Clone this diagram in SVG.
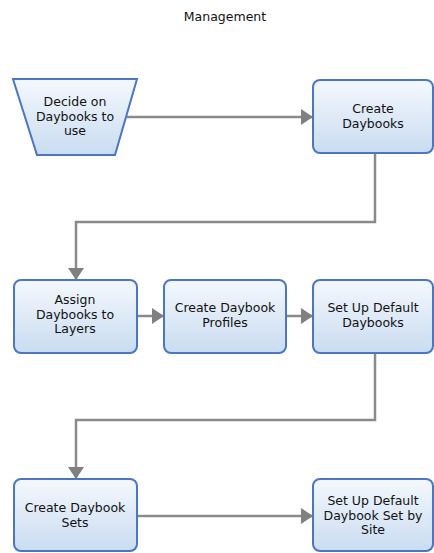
<svg xmlns="http://www.w3.org/2000/svg" width="434" height="553" viewBox="0 0 434 553">
<defs>
<linearGradient id="g" x1="0" y1="0" x2="0" y2="1">
<stop offset="0" stop-color="#f4f8fd"/>
<stop offset="1" stop-color="#c9dcf1"/>
</linearGradient>
<marker id="ah" markerWidth="14" markerHeight="16" refX="11" refY="8" orient="auto" markerUnits="userSpaceOnUse">
<path d="M0,0 L12,8 L0,16 Z" fill="#808080"/>
</marker>
<style>
.n{fill:url(#g);stroke:#4a76c4;stroke-width:2}
.t{font-family:"DejaVu Sans",Verdana,sans-serif;font-size:12.5px;fill:#111;text-anchor:middle}
.c{fill:none;stroke:#8a8a8a;stroke-width:2.5;marker-end:url(#ah)}
</style>
</defs>
<rect width="434" height="553" fill="#fff"/>
<text x="225" y="21" class="t" style="font-size:12.5px">Management</text>
<g id="connectors">
<path class="c" d="M127,117 H312"/>
<path class="c" d="M375,154 V222 H76 V279"/>
<path class="c" d="M137,316 H163"/>
<path class="c" d="M286,316 H312"/>
<path class="c" d="M375,354 V420 H76 V478"/>
<path class="c" d="M137,516 H312"/>
</g>
<g id="n1"><path class="n" d="M13,79 H137 L115,155 H37 Z"/>
<text class="t" x="75" y="106">Decide on</text><text class="t" x="75" y="120.5">Daybooks to</text><text class="t" x="75" y="135">use</text></g>
<g id="n2"><rect class="n" x="313" y="80" width="120" height="73" rx="7"/>
<text class="t" x="373" y="113">Create</text><text class="t" x="373" y="127.5">Daybooks</text></g>
<g id="n3"><rect class="n" x="14" y="280" width="123" height="73" rx="7"/>
<text class="t" x="75" y="304">Assign</text><text class="t" x="75" y="318.5">Daybooks to</text><text class="t" x="75" y="333">Layers</text></g>
<g id="n4"><rect class="n" x="164" y="280" width="122" height="73" rx="7"/>
<text class="t" x="225" y="312">Create Daybook</text><text class="t" x="225" y="326.5">Profiles</text></g>
<g id="n5"><rect class="n" x="313" y="280" width="120" height="73" rx="7"/>
<text class="t" x="373" y="312">Set Up Default</text><text class="t" x="373" y="326.5">Daybooks</text></g>
<g id="n6"><rect class="n" x="14" y="479" width="123" height="72" rx="7"/>
<text class="t" x="75" y="512">Create Daybook</text><text class="t" x="75" y="526.5">Sets</text></g>
<g id="n7"><rect class="n" x="313" y="479" width="120" height="72" rx="7"/>
<text class="t" x="373" y="505">Set Up Default</text><text class="t" x="373" y="519.5">Daybook Set by</text><text class="t" x="373" y="534">Site</text></g>
</svg>
